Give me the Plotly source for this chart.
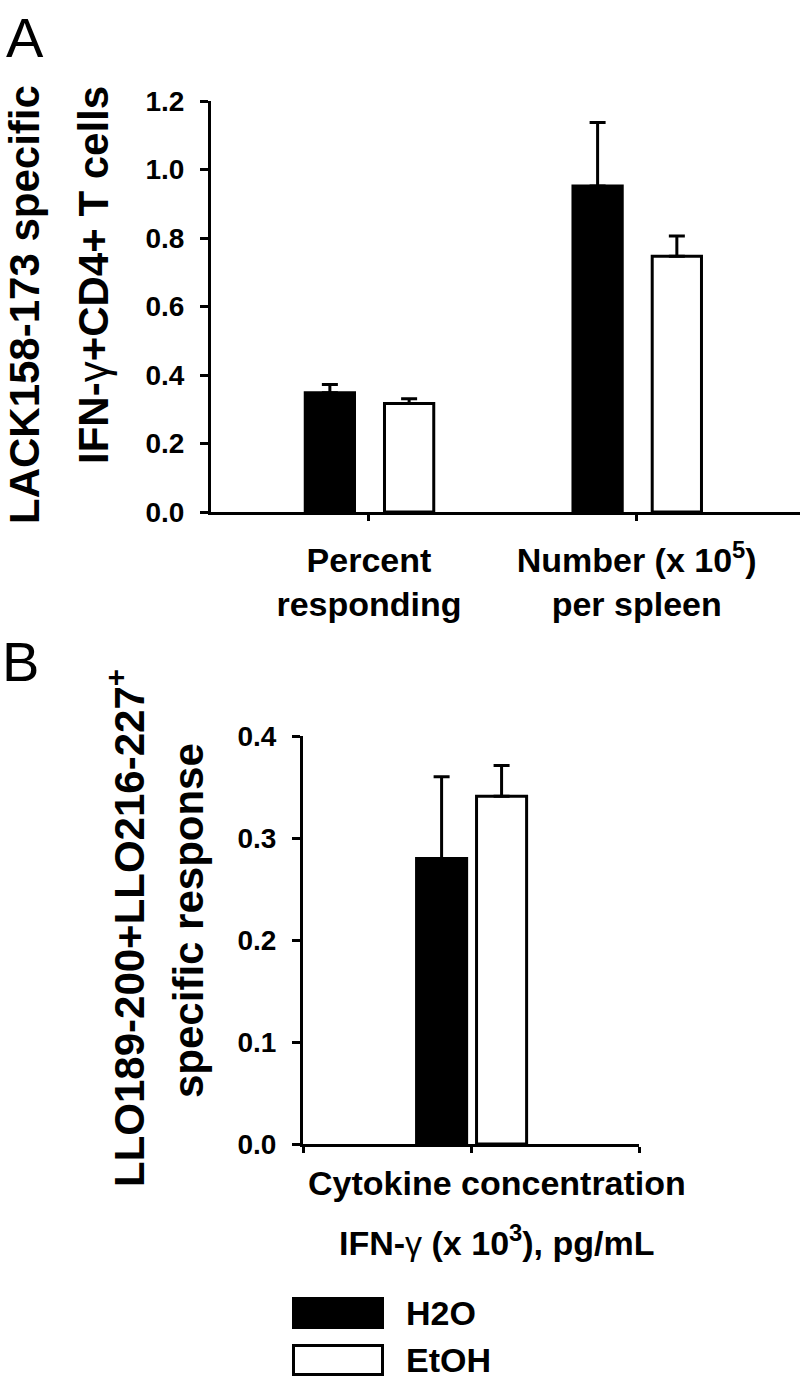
import plotly.graph_objects as go

W, H = 800, 1381
FONT = "Liberation Sans, Arial, Helvetica, sans-serif"

# ---------------- data ----------------
series = ["H2O", "EtOH"]
a_categories = ["Percent<br>responding", "Number (x 10<sup>5</sup>)<br>per spleen"]
a_values = {"H2O": [0.348, 0.952], "EtOH": [0.317, 0.747]}
a_errors = {"H2O": [0.024, 0.185], "EtOH": [0.014, 0.059]}
b_category = ["Cytokine concentration", "IFN-<span style='font-weight:normal'>γ</span> (x 10<sup>3</sup>), pg/mL"]
b_values = {"H2O": [0.28], "EtOH": [0.341]}
b_errors = {"H2O": [0.08], "EtOH": [0.03]}
a_yticks = [0.0, 0.2, 0.4, 0.6, 0.8, 1.0, 1.2]
b_yticks = [0.0, 0.1, 0.2, 0.3, 0.4]
a_ytitle = ["LACK158-173 specific", "IFN-<span style='font-weight:normal'>γ</span>+CD4+ T cells"]
b_ytitle = ["LLO189-200+LLO216-227<sup>+</sup>", "specific response"]

# ---------------- style ----------------
fills = {"H2O": "black", "EtOH": "white"}
a_offset = {"H2O": -0.238, "EtOH": 0.058}
a_width = 0.184
b_offset = {"H2O": -0.324, "EtOH": 0.033}
b_width = 0.298


def px(x):
    return x / W


def py(y):
    return 1 - y / H


fig = go.Figure()

for s in series:
    fig.add_trace(go.Bar(
        x=list(range(len(a_categories))), y=a_values[s], name=s,
        width=a_width, offset=a_offset[s],
        marker=dict(color=fills[s], line=dict(color="black", width=3)),
        error_y=dict(type="data", symmetric=False, array=a_errors[s],
                     arrayminus=[0] * len(a_values[s]),
                     color="black", thickness=3, width=8),
        xaxis="x", yaxis="y", showlegend=False,
    ))
    fig.add_trace(go.Bar(
        x=[1] * len(b_values[s]), y=b_values[s], name=s,
        width=b_width, offset=b_offset[s],
        marker=dict(color=fills[s], line=dict(color="black", width=3)),
        error_y=dict(type="data", symmetric=False, array=b_errors[s],
                     arrayminus=[0] * len(b_values[s]),
                     color="black", thickness=3, width=8),
        xaxis="x2", yaxis="y2", showlegend=False,
    ))

axis_common = dict(showline=True, linecolor="black", linewidth=3, ticks="outside",
                   tickcolor="black", tickwidth=3, showgrid=False, zeroline=False,
                   fixedrange=True, automargin=False)

fig.update_layout(
    template="none",
    width=W, height=H,
    margin=dict(l=0, r=0, t=0, b=0, pad=0, autoexpand=False),
    paper_bgcolor="white", plot_bgcolor="white",
    barmode="overlay",
    font=dict(family=FONT, color="black"),
    xaxis=dict(**axis_common, domain=[px(211), px(800)], range=[-0.59, 1.61],
               anchor="y", tickmode="array", tickvals=list(range(len(a_categories))),
               ticktext=a_categories, ticklen=6,
               tickfont=dict(size=34, family=FONT, weight="bold"),
               ticklabelstandoff=10),
    yaxis=dict(**axis_common, domain=[py(512), py(101)], range=[0, 1.2],
               anchor="x", tickmode="array", tickvals=a_yticks,
               ticktext=[f"{v:.1f}" for v in a_yticks], ticklen=8,
               ticklabelstandoff=10,
               tickfont=dict(size=28, family=FONT, weight="bold")),
    xaxis2=dict(**axis_common, domain=[px(303), px(639)], range=[0, 2],
                anchor="y2", tickmode="array", tickvals=[0, 1, 2],
                showticklabels=False, ticklen=6),
    yaxis2=dict(**axis_common, domain=[py(1144), py(736)], range=[0, 0.4],
                anchor="x2", tickmode="array", tickvals=b_yticks,
                ticktext=[f"{v:.1f}" for v in b_yticks], ticklen=8,
                ticklabelstandoff=10,
                tickfont=dict(size=28, family=FONT, weight="bold")),
)

ann = []
# panel letters
ann.append(dict(text="A", x=px(4), y=py(4), xanchor="left", yanchor="top",
                font=dict(size=56, family=FONT)))
ann.append(dict(text="B", x=px(0), y=py(628), xanchor="left", yanchor="top",
                font=dict(size=56, family=FONT)))
# panel A y title
ann.append(dict(text=a_ytitle[0], textangle=-90, x=px(24), y=py(305),
                xanchor="center", yanchor="middle",
                font=dict(size=42, family=FONT, weight="bold")))
ann.append(dict(text=a_ytitle[1], textangle=-90, x=px(94), y=py(275),
                xanchor="center", yanchor="middle",
                font=dict(size=42, family=FONT, weight="bold")))
# panel B y title
ann.append(dict(text=b_ytitle[0], textangle=-90, x=px(126), y=py(928),
                xanchor="center", yanchor="middle",
                font=dict(size=42, family=FONT, weight="bold")))
ann.append(dict(text=b_ytitle[1], textangle=-90, x=px(188), y=py(921),
                xanchor="center", yanchor="middle",
                font=dict(size=42, family=FONT, weight="bold")))
# panel B category label
ann.append(dict(text=b_category[0], x=px(497), y=py(1183), xanchor="center",
                yanchor="middle", font=dict(size=34, family=FONT, weight="bold")))
ann.append(dict(text=b_category[1], x=px(497), y=py(1240), xanchor="center",
                yanchor="middle", font=dict(size=34, family=FONT, weight="bold")))

# legend
shapes = []
leg_y = [1313, 1360]
for s, yc in zip(series, leg_y):
    shapes.append(dict(type="rect", xref="paper", yref="paper",
                       x0=px(293.5), x1=px(382.5), y0=py(yc - 14.5), y1=py(yc + 14.5),
                       fillcolor=fills[s], line=dict(color="black", width=3)))
    ann.append(dict(text=s, x=px(404), y=py(yc), xanchor="left", yanchor="middle",
                    font=dict(size=34, family=FONT, weight="bold")))

for a in ann:
    a.update(xref="paper", yref="paper", showarrow=False)
fig.update_layout(annotations=ann, shapes=shapes)

fig.write_html(
    "out.html",
    config={"displayModeBar": False},
    post_script="document.body.style.margin='0';document.body.style.padding='0';"
                "document.documentElement.style.overflow='hidden';",
)
